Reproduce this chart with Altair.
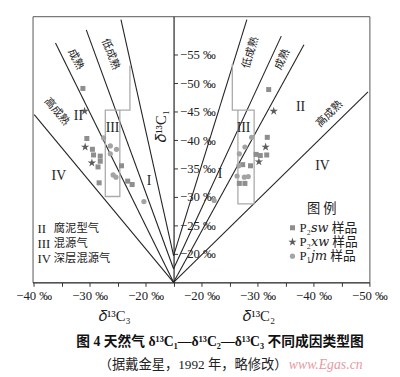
import altair as alt
import pandas as pd

SERIF = "Liberation Serif, DejaVu Serif, Noto Sans CJK SC"
CJK = "Noto Sans CJK SC"

# ---------------- data ----------------
# left panel: δ13C3 (x) vs δ13C1 (y)
L_type = ["P2sw"] * 11 + ["P2xw"] * 3 + ["P1jm"] * 7
L_c3 = [-31.2, -30.5, -29.5, -29.3, -28.1, -28.1, -28.5, -28.3, -24.3, -23.2, -22.4,
        -30.9, -30.8, -29.6,
        -27.5, -26.3, -25.2, -26.3, -25.8, -25.3, -20.3]
L_c1 = [-49.1, -40.3, -38.4, -37.4, -37.2, -36.3, -35.3, -32.5, -35.5, -32.8, -32.2,
        -45.1, -38.8, -36.0,
        -40.4, -39.0, -38.4, -37.6, -33.9, -33.5, -29.2]

# right panel: δ13C2 (x) vs δ13C1 (y)
R_type = ["P2sw"] * 9 + ["P2xw"] * 3 + ["P1jm"] * 8
R_c2 = [-32.0, -31.75, -29.75, -30.5, -31.65, -28.75, -27.35, -26.75, -27.75,
        -32.9, -31.45, -30.25,
        -28.95, -27.75, -26.75, -26.65, -26.35, -27.65, -28.35, -22.25]
R_c1 = [-48.9, -40.5, -37.5, -37.3, -37.4, -35.5, -35.7, -32.4, -32.4,
        -45.1, -38.8, -36.2,
        -40.5, -38.8, -37.6, -35.5, -33.7, -33.5, -33.6, -29.4]

# maturity boundary lines (panel, start δ13Cn, start δ13C1, end δ13Cn, end δ13C1)
line_panel = ["L", "L", "L", "L", "R", "R", "R", "R"]
line_c_a = [-24.4, -30.6, -36.1, -39.9, -28.1, -34.25, -38.3, -49.75]
line_c1_a = [-61.2, -59.4, -57.1, -44.5, -61.2, -58.3, -56.8, -48.5]
line_c_b = [-15, -15, -15, -15, -15, -15, -15, -15]
line_c1_b = [-19.7, -17.4, -15, -15, -19.7, -17.4, -15, -15]

# zone III outlines
zoneL_c = [-22.8, -22.8, -27.2, -27.2, -24.6, -24.6]
zoneL_c1 = [-53.1, -45.3, -45.3, -30.1, -30.1, -45.3]
zoneR_c = [-25.5, -25.5, -29.4, -29.4, -26.5, -26.5]
zoneR_c1 = [-53.4, -45.3, -45.3, -28.8, -28.8, -45.3]

y_ticks = [-20, -25, -30, -35, -40, -45, -50, -55]
x_ticks = [-25, -20, -15, -10, -5, 0, 5, 10, 15, 20, 25, 30, 35]


def to_u(panel, c):
    # left half: δ13C3 + 15 (negative); right half: -(δ13C2 + 15) (positive)
    return c + 15 if panel == "L" else -(c + 15)


pts = pd.DataFrame(
    {"type": L_type + R_type,
     "u": [to_u("L", c) for c in L_c3] + [to_u("R", c) for c in R_c2],
     "c1": L_c1 + R_c1})

lines = pd.DataFrame({
    "u": [to_u(p, c) for p, c in zip(line_panel, line_c_a)],
    "u2": [to_u(p, c) for p, c in zip(line_panel, line_c_b)],
    "c1": line_c1_a, "c1b": line_c1_b})

zones = pd.DataFrame({
    "zone": ["L"] * 6 + ["R"] * 6,
    "ord": list(range(6)) * 2,
    "u": [to_u("L", c) for c in zoneL_c] + [to_u("R", c) for c in zoneR_c],
    "c1": zoneL_c1 + zoneR_c1})

# legend markers (right, lower)
leg_pts = pd.DataFrame({"type": ["P2sw", "P2xw", "P1jm"],
                        "u": [21.25, 21.25, 21.25], "c1": [-24.6, -22.1, -19.6]})
pts_all = pd.concat([pts, leg_pts], ignore_index=True)

xs = alt.Scale(domain=[-25.2, 35], nice=False, zero=False)
ys = alt.Scale(domain=[-15, -61.8], nice=False, zero=False)

lab_x = ("datum.value == 0 ? '' : ((datum.value < 0 ? 15 - datum.value : datum.value + 15) % 10 == 0"
         " ? '−' + (datum.value < 0 ? 15 - datum.value : datum.value + 15) + ' ‰' : '')")
xaxis = alt.Axis(values=x_ticks, labelExpr=lab_x, title=None, grid=False, tickSize=4,
                 labelFlush=False, labelOverlap=False, labelFont=SERIF, labelFontSize=13,
                 labelColor="#222", domainColor="#333", tickColor="#333", labelPadding=3)
yaxis = alt.Axis(orient="right", offset=-199.4, values=y_ticks,
                 labelExpr="'−' + abs(datum.value) + ' ‰'", title=None, grid=False,
                 tickSize=4, labelFont=SERIF, labelFontSize=13, labelColor="#222",
                 domainColor="#333", domainWidth=1.3, tickColor="#333", labelPadding=2,
                 labelOverlap=False)

X = alt.X("u:Q", scale=xs, axis=xaxis)
Y = alt.Y("c1:Q", scale=ys, axis=yaxis)

rules = alt.Chart(lines).mark_rule(color="#222", strokeWidth=1.1).encode(
    x=X, x2="u2:Q", y=Y, y2="c1b:Q")

zone_lines = alt.Chart(zones).mark_line(color="#aaa", strokeWidth=1.3).encode(
    x=X, y=Y, detail="zone:N", order="ord:Q")

STAR = ("M0,-1L0.2245,-0.309L0.951,-0.309L0.363,0.118L0.588,0.809L0,0.382"
        "L-0.588,0.809L-0.363,0.118L-0.951,-0.309L-0.2245,-0.309Z")

sq = alt.Chart(pts_all).transform_filter("datum.type == 'P2sw'").mark_point(
    shape="square", filled=True, size=26, color="#8e8e8e", opacity=1).encode(x=X, y=Y)
st = alt.Chart(pts_all).transform_filter("datum.type == 'P2xw'").mark_point(
    shape=STAR, filled=True, size=80, color="#5c5c5c", opacity=1).encode(x=X, y=Y)
ci = alt.Chart(pts_all).transform_filter("datum.type == 'P1jm'").mark_point(
    shape="circle", filled=True, size=28, color="#a3a3a3", opacity=1).encode(x=X, y=Y)


def txt(rows, **kw):
    df = pd.DataFrame(rows, columns=["t", "u", "c1", "ang"])
    return alt.Chart(df).mark_text(**kw).encode(
        x=X, y=Y, text="t:N", angle=alt.Angle("ang:Q", scale=None))


roman = txt([["II", -17.0, -44.2, 0], ["III", -10.9, -42.1, 0], ["I", -4.4, -32.8, 0],
             ["IV", -20.5, -33.65, 0], ["II", 22.7, -45.9, 0], ["III", 12.5, -42.2, 0],
             ["I", 8.3, -34.1, 0], ["IV", 26.6, -35.4, 0]],
            font=SERIF, fontSize=14, color="#222")

matur = txt([["低成熟", -11.3, -55.1, 69], ["成熟", -17.5, -54.2, 63], ["高成熟", -20.9, -45.0, 50],
             ["低成熟", 13.8, -55.4, 287], ["成熟", 19.5, -54.2, 295], ["高成熟", 27.9, -44.6, 315]],
            font=CJK, fontSize=11, color="#222")

leg_rom = txt([["II", -24.3, -24.3, 0], ["III", -24.3, -21.7, 0], ["IV", -24.3, -19.1, 0]],
              font=SERIF, fontSize=13, color="#222", align="left")
leg_cjk = txt([["腐泥型气", -21.4, -24.3, 0], ["混源气", -21.4, -21.7, 0], ["深层混源气", -21.4, -19.1, 0]],
              font=CJK, fontSize=11.5, color="#222", align="left")

leg_title = txt([["图    例", 26.5, -27.9, 0]], font=CJK, fontSize=13.5, color="#222")
leg_lab = txt([["P₂𝑠𝑤 样品", 22.5, -24.6, 0], ["P₂𝑥𝑤 样品", 22.5, -22.1, 0],
               ["P₁𝑗𝑚 样品", 22.5, -19.6, 0]],
              font=SERIF, fontSize=13, color="#222", align="left")

ax_titles = txt([["𝛿¹³C₃", -10.5, -9.13, 0], ["𝛿¹³C₂", 15.3, -9.13, 0], ["𝛿¹³C₁", -2.26, -42.5, 270]],
                font=SERIF, fontSize=15, color="#222")

cap1 = txt([["图 4    天然气 δ¹³C₁—δ¹³C₂—δ¹³C₃ 不同成因类型图", 8.3, -4.46, 0]],
           font=SERIF, fontSize=14, fontWeight="bold", color="#111")
cap2 = txt([["（据戴金星，1992 年，略修改）", 3.5, -0.44, 0]],
           font=SERIF, fontSize=13.5, color="#222")
wm = txt([["www.Egas.cn", 20.6, -0.44, 0]],
         font=SERIF, fontSize=14, fontStyle="italic", color="#e79aa6", align="left")

chart = alt.layer(rules, zone_lines, sq, st, ci, roman, matur, leg_rom, leg_cjk,
                  leg_title, leg_lab, ax_titles, cap1, cap2, wm).properties(
    width=343, height=271,
    autosize=alt.AutoSizeParams(type="none"),
    padding={"left": 25, "top": 5, "right": 23, "bottom": 93},
    background="white",
).configure_view(stroke="#555", strokeWidth=1)

chart.save("out.html", embed_options={"renderer": "svg", "actions": False})
